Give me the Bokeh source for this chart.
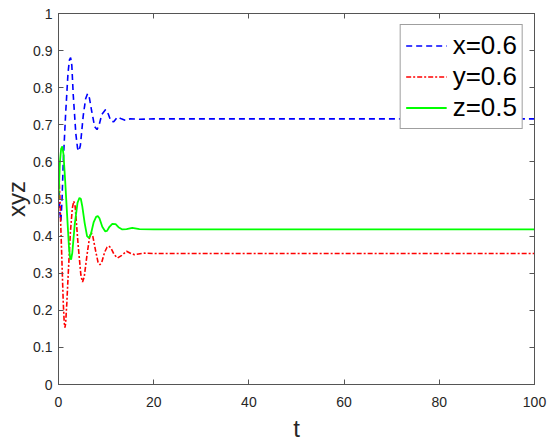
from bokeh.plotting import figure
from bokeh.models import LinearAxis, FixedTicker, Legend, LegendItem, Range1d, CustomLabelingPolicy
from bokeh.embed import file_html
from bokeh.resources import INLINE

# ---- data ----
x_t = [0, 0.25, 0.5, 0.75, 1.0, 1.5, 2.0, 2.3, 2.55, 2.8, 3.1, 3.65, 4.0, 4.3, 4.6, 5.2, 5.7, 6.1, 6.5,
       7.0, 7.6, 8.1, 8.6, 9.1, 9.9, 10.5, 11.0, 11.6, 12.4, 13.2, 14, 15, 17, 20,
       30, 40, 50, 60, 70, 80, 90, 100]
x_val = [0.6, 0.47, 0.44, 0.5, 0.6, 0.73, 0.84, 0.875, 0.881, 0.86, 0.78, 0.675, 0.637, 0.629, 0.645,
         0.725, 0.77, 0.784, 0.772, 0.735, 0.695, 0.687, 0.703, 0.728, 0.741, 0.728, 0.71, 0.708, 0.721,
         0.716, 0.712, 0.716, 0.715, 0.716,
         0.716, 0.716, 0.716, 0.716, 0.716, 0.716, 0.716, 0.716]

y_t = [0, 0.3, 0.65, 1.0, 1.2, 1.35, 1.5, 1.75, 2.05, 2.5, 2.9, 3.2, 3.5, 4.1, 4.7, 5.05, 5.4, 6.0, 6.5,
       6.85, 7.2, 7.8, 8.3, 8.7, 9.1, 9.7, 10.2, 10.6, 11.0, 11.7, 12.4, 13.3, 14.3, 15.2, 16, 18, 20,
       30, 40, 50, 60, 70, 80, 90, 100]
y_val = [0.6, 0.5, 0.36, 0.22, 0.168, 0.153, 0.165, 0.22, 0.3, 0.41, 0.475, 0.494, 0.48, 0.38, 0.295,
         0.276, 0.29, 0.35, 0.395, 0.41, 0.4, 0.36, 0.33, 0.323, 0.33, 0.357, 0.37, 0.373, 0.368, 0.35,
         0.341, 0.348, 0.359, 0.353, 0.35, 0.354, 0.353,
         0.353, 0.353, 0.353, 0.353, 0.353, 0.353, 0.353, 0.353]

z_t = [0, 0.3, 0.55, 0.8, 1.05, 1.4, 1.75, 2.2, 2.45, 2.65, 2.9, 3.4, 4.0, 4.4, 4.7, 5.0, 5.5, 6.0,
       6.4, 6.8, 7.4, 7.9, 8.25, 8.6, 9.2, 9.8, 10.2, 10.7, 11.3, 12.0, 12.6, 13.4, 14.3, 15.5, 17, 20,
       30, 40, 50, 60, 70, 80, 90, 100]
z_val = [0.5, 0.6, 0.635, 0.642, 0.62, 0.55, 0.47, 0.37, 0.34, 0.337, 0.355, 0.43, 0.49, 0.503, 0.5,
         0.48, 0.435, 0.4, 0.395, 0.405, 0.438, 0.452, 0.454, 0.448, 0.425, 0.413, 0.414, 0.425, 0.433,
         0.432, 0.424, 0.418, 0.419, 0.422, 0.419, 0.418,
         0.418, 0.418, 0.418, 0.418, 0.418, 0.418, 0.418, 0.418]

x_ticks = [0, 20, 40, 60, 80, 100]
y_ticks = [0, 0.1, 0.2, 0.3, 0.4, 0.5, 0.6, 0.7, 0.8, 0.9, 1]
y_tick_labels = ["0", "0.1", "0.2", "0.3", "0.4", "0.5", "0.6", "0.7", "0.8", "0.9", "1"]
legend_labels = ["x=0.6", "y=0.6", "z=0.5"]
x_label = "t"
y_label = "xyz"

FONT = "Liberation Sans"
AX = "#555555"

p = figure(frame_width=476, frame_height=371, output_backend="svg", toolbar_location=None,
           x_range=Range1d(0, 100), y_range=Range1d(0, 1),
           min_border_left=0, min_border_right=0, min_border_top=13, min_border_bottom=0)
p.background_fill_color = "white"
p.border_fill_color = "white"
p.outline_line_color = AX
p.outline_line_width = 1
p.grid.visible = False


def style(ax, labels=True):
    ax.axis_line_color = AX
    ax.major_tick_line_color = AX
    ax.major_tick_in = 5
    ax.major_tick_out = 0
    ax.minor_tick_line_color = None
    ax.major_label_text_font = FONT
    ax.major_label_text_font_size = "14px"
    ax.major_label_text_color = "#262626"
    ax.axis_label_text_font = FONT
    ax.axis_label_text_font_style = "normal"
    ax.axis_label_text_font_size = "24px"
    ax.axis_label_text_color = "#262626"
    if not labels:
        ax.major_label_policy = CustomLabelingPolicy(
            code="for (const i of indices) indices.unset(i); return indices")
        ax.major_label_standoff = 0


bx = LinearAxis(ticker=FixedTicker(ticks=x_ticks), axis_label=x_label)
style(bx)
bx.major_label_standoff = 12
bx.axis_label_standoff = 5
ly = LinearAxis(ticker=FixedTicker(ticks=y_ticks), axis_label=y_label,
                major_label_overrides={k: v for k, v in zip(y_ticks, y_tick_labels)})
style(ly)
ly.major_label_standoff = 6
ly.axis_label_standoff = 0
tx = LinearAxis(ticker=FixedTicker(ticks=x_ticks))
style(tx, False)
ry = LinearAxis(ticker=FixedTicker(ticks=y_ticks))
style(ry, False)

p.below = [bx]
p.left = [ly]
p.above = [tx]
p.right = [ry]

r1 = p.line(x_t, x_val, line_color="#0000ff", line_width=1.6, line_dash="6 4")
r2 = p.line(y_t, y_val, line_color="#ff0000", line_width=1.6, line_dash="5 2 2 2")
r3 = p.line(z_t, z_val, line_color="#00ff00", line_width=1.8)

legend = Legend(items=[LegendItem(label=legend_labels[0], renderers=[r1]),
                       LegendItem(label=legend_labels[1], renderers=[r2]),
                       LegendItem(label=legend_labels[2], renderers=[r3])],
                location="top_right")
legend.margin = 11
legend.padding = 5
legend.spacing = 0
legend.label_height = 31
legend.glyph_height = 31
legend.glyph_width = 41
legend.label_standoff = 6
legend.label_text_font = FONT
legend.label_text_font_size = "26px"
legend.label_text_color = "black"
legend.border_line_color = "#404040"
legend.border_line_width = 1
legend.background_fill_color = "white"
legend.background_fill_alpha = 1
p.add_layout(legend, "center")

open("out.html", "w").write(file_html(p, INLINE))
